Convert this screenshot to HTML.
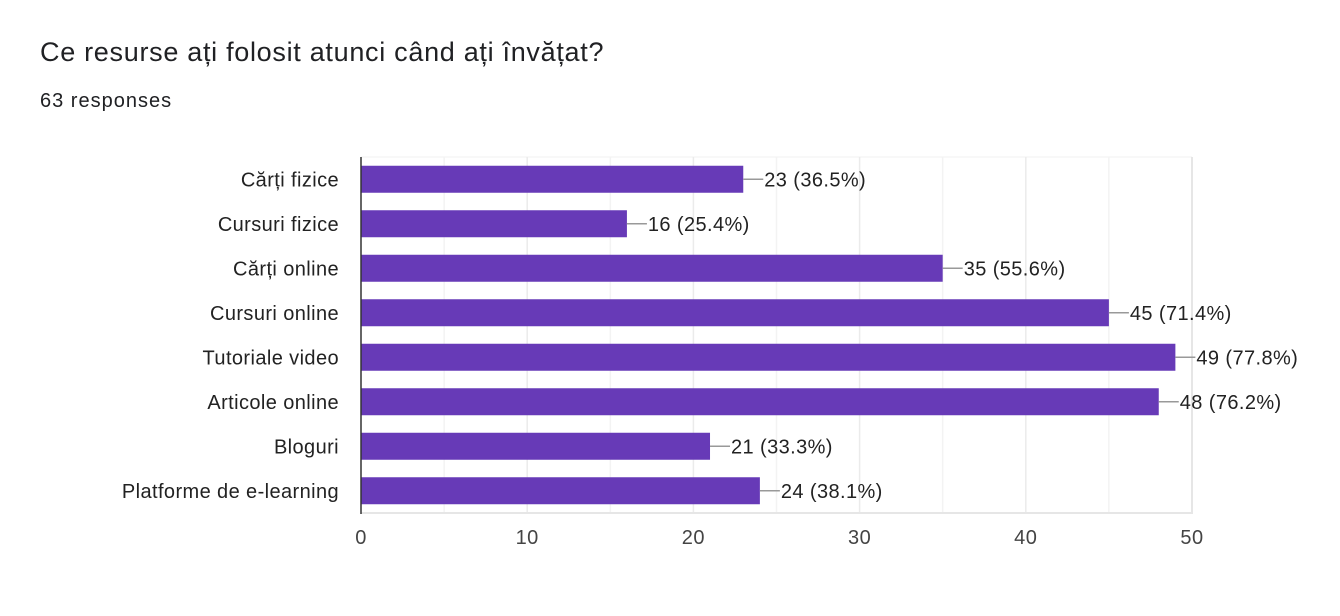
<!DOCTYPE html>
<html><head><meta charset="utf-8"><style>
html,body{margin:0;padding:0;background:#fff;}
body{width:1340px;height:616px;overflow:hidden;font-family:"Liberation Sans",sans-serif;}
#title{position:absolute;left:40px;top:37px;font-size:27px;letter-spacing:0.7px;color:#202124;white-space:nowrap;}
#sub{position:absolute;left:40px;top:90px;font-size:20px;color:#202124;letter-spacing:1px;white-space:nowrap;}
svg{position:absolute;left:0;top:0;}
</style></head><body>
<div id="title">Ce resurse ați folosit atunci când ați învățat?</div>
<div id="sub">63 responses</div>
<svg id="chart" width="1340" height="616"></svg>
<script>
const categories=["Cărți fizice","Cursuri fizice","Cărți online","Cursuri online","Tutoriale video","Articole online","Bloguri","Platforme de e-learning"];
const values=[23,16,35,45,49,48,21,24];
const valueLabels=["23 (36.5%)","16 (25.4%)","35 (55.6%)","45 (71.4%)","49 (77.8%)","48 (76.2%)","21 (33.3%)","24 (38.1%)"];
const ticks=[0,10,20,30,40,50];
const gridVals=[5,10,15,20,25,30,35,40,45,50];
const X0=361,X1=1192,Y0=157,Y1=513,MAX=50;
const xs=v=>X0+(X1-X0)*v/MAX;
const band=(Y1-Y0)/categories.length;
const yc=i=>Y0+band*(i+0.5);
const svg=document.getElementById('chart');
const NS='http://www.w3.org/2000/svg';
function mk(t,a){const e=document.createElementNS(NS,t);for(const k in a)e.setAttribute(k,a[k]);svg.appendChild(e);return e;}
let e=mk('line',{x1:X0,x2:X1,y1:Y0,y2:Y0,stroke:'#f0f0f0','stroke-width':1});


gridVals.forEach(v=>{const g=mk('line',{x1:xs(v),x2:xs(v),y1:Y0,y2:Y1,stroke:v%10==0&&v!=50?'#ebebeb':(v==50?'#e6e6e6':'#f3f3f3'),'stroke-width':v==50?2:1.5});

});
e=mk('line',{x1:X0,x2:X1+1,y1:Y1,y2:Y1,stroke:'#e6e6e6','stroke-width':2});


ticks.forEach(v=>{const t=mk('text',{x:xs(v),y:544,'text-anchor':'middle','font-size':20,'letter-spacing':0.5,fill:'#444'});t.textContent=v;

});
categories.forEach((c,i)=>{
const y=yc(i);
const l=mk('text',{x:339,y:y+7,'text-anchor':'end','font-size':20,'letter-spacing':0.4,fill:'#222'});l.textContent=c;


const b=mk('rect',{x:X0,y:y-13.5,width:xs(values[i])-X0,height:27,fill:'#673ab7'});


const ln=mk('line',{x1:xs(values[i]),x2:xs(values[i])+20,y1:y,y2:y,stroke:'#999','stroke-width':1.5});


const vt=mk('text',{x:xs(values[i])+21,y:y+7,'font-size':20,'letter-spacing':0.4,fill:'#222'});vt.textContent=valueLabels[i];


});
e=mk('line',{x1:X0,x2:X0,y1:Y0,y2:Y1+1,stroke:'#333','stroke-width':1.5});


</script>
</body></html>
